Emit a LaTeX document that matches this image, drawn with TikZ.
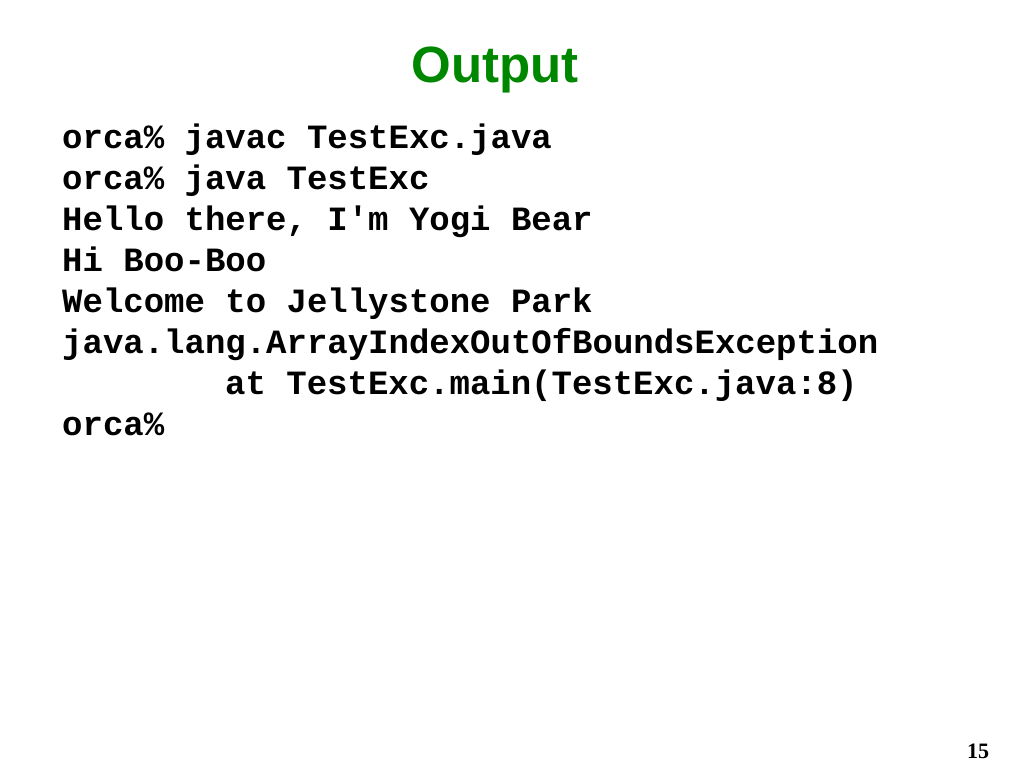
\documentclass[tikz,border=0pt]{standalone}
\usepackage{fontspec}
\setmainfont{Liberation Serif}
\newfontfamily\codefont{Liberation Mono}
\newfontfamily\titlefont{Liberation Sans}
\definecolor{titlegreen}{RGB}{0,135,0}
\begin{document}
\begin{tikzpicture}[x=1pt,y=1pt,
  codeline/.style={anchor=base west,inner sep=0pt,font=\codefont\bfseries\fontsize{34}{34}\selectfont}]
\useasboundingbox (0,0) rectangle (1024,-768);
\node[anchor=base,inner sep=0pt,text=titlegreen,font=\titlefont\bfseries\fontsize{51}{51}\selectfont] (title) at (495,-82) {Output};
\node[codeline] (l1) at (62,-148) {orca\% javac TestExc.java};
\node[codeline] (l2) at (62,-189) {orca\% java TestExc};
\node[codeline] (l3) at (62,-230) {Hello there, I'm Yogi Bear};
\node[codeline] (l4) at (62,-271) {Hi Boo-Boo};
\node[codeline] (l5) at (62,-312) {Welcome to Jellystone Park};
\node[codeline] (l6) at (62,-353) {java.lang.ArrayIndexOutOfBoundsException};
\node[codeline] (l7) at (225,-394) {at TestExc.main(TestExc.java:8)};
\node[codeline] (l8) at (62,-435) {orca\%};
\node[anchor=base,inner sep=0pt,font=\bfseries\fontsize{22}{22}\selectfont] (pg) at (978,-758) {15};
\end{tikzpicture}
\end{document}
